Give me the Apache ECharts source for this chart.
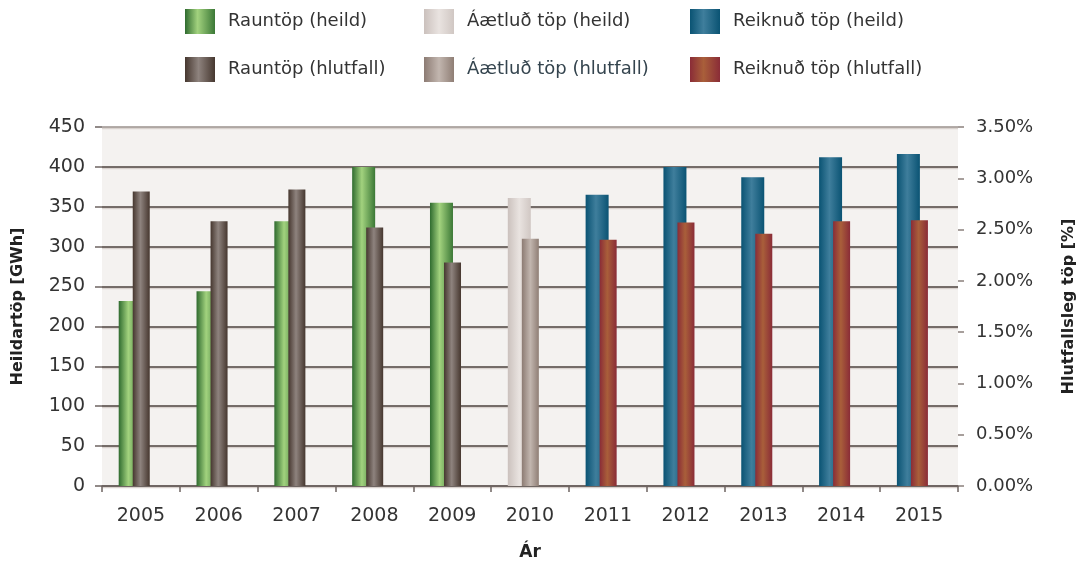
<!DOCTYPE html>
<html>
<head>
<meta charset="utf-8">
<script src="https://cdn.jsdelivr.net/npm/echarts@6/dist/echarts.min.js"></script>
<style>
  html, body { margin: 0; padding: 0; background: #ffffff; }
  #chart { width: 1078px; height: 563px; }
</style>
</head>
<body>
<div id="chart"></div>
<script>
// Years on the category axis
const years = ['2005', '2006', '2007', '2008', '2009', '2010', '2011', '2012', '2013', '2014', '2015'];

// Total losses [GWh] (left axis)
const rauntopHeild  = [232, 244, 332, 400, 355, '-', '-', '-', '-', '-', '-'];
const aaetludHeild  = ['-', '-', '-', '-', '-', 361, '-', '-', '-', '-', '-'];
const reiknudHeild  = ['-', '-', '-', '-', '-', '-', 365, 400, 387, 412, 416];

// Relative losses [%] (right axis)
const rauntopHlutf  = [2.87, 2.58, 2.89, 2.52, 2.18, '-', '-', '-', '-', '-', '-'];
const aaetludHlutf  = ['-', '-', '-', '-', '-', 2.41, '-', '-', '-', '-', '-'];
const reiknudHlutf  = ['-', '-', '-', '-', '-', '-', 2.40, 2.57, 2.46, 2.58, 2.59];

// Axis ranges
const leftMax = 450, leftStep = 50;
const rightMax = 3.5, rightStep = 0.5;

const FONT = 'DejaVu Sans';

// Horizontal "cylinder" shading for each bar colour
function shade(edgeL, mid, edgeR, midPos) {
  return new echarts.graphic.LinearGradient(0, 0, 1, 0, [
    { offset: 0, color: edgeL },
    { offset: midPos, color: mid },
    { offset: 1, color: edgeR }
  ]);
}
const cGreen = shade('#2f6b2f', '#a2d27e', '#3b7836', 0.42);
const cDark  = shade('#46372f', '#8e837e', '#46372f', 0.45);
const cLight = shade('#cbc1bd', '#e9e3e0', '#d0c7c3', 0.5);
const cTaupe = shade('#8c7b73', '#c2b6af', '#8f7e75', 0.5);
const cBlue  = shade('#0a5373', '#3f7e9c', '#0a5373', 0.45);
const cRed   = shade('#8a2c37', '#a95f3a', '#8a2c37', 0.45);

function barSeries(name, data, color, axis, stack, width) {
  return {
    name: name,
    type: 'bar',
    data: data,
    yAxisIndex: axis,
    stack: stack,
    barWidth: width,
    barGap: '-39%',
    itemStyle: { color: color },
    emphasis: { disabled: true },
    animation: false
  };
}

const legendBase = {
  orient: 'vertical',
  top: 9,
  padding: 0,
  itemWidth: 30,
  itemHeight: 25,
  itemGap: 23,
  icon: 'rect',
  selectedMode: false,
  textStyle: { fontFamily: FONT, fontSize: 18, color: '#333333', padding: [0, 0, 0, 8] }
};

const chart = echarts.init(document.getElementById('chart'), null, { renderer: 'canvas' });

chart.setOption({
  animation: false,
  backgroundColor: '#ffffff',
  legend: [
    Object.assign({}, legendBase, { left: 185, data: ['Rauntöp (heild)', 'Rauntöp (hlutfall)'] }),
    Object.assign({}, legendBase, { left: 424, data: ['Áætluð töp (heild)',
      { name: 'Áætluð töp (hlutfall)', textStyle: { color: '#34444e' } }] }),
    Object.assign({}, legendBase, { left: 690, data: ['Reiknuð töp (heild)', 'Reiknuð töp (hlutfall)'] })
  ],
  grid: {
    left: 102, right: 120, top: 127, bottom: 77,
    outerBoundsMode: 'none',
    containLabel: false,
    show: true, backgroundColor: '#f4f2f0', borderWidth: 0
  },
  xAxis: {
    type: 'category',
    data: years,
    name: 'Ár',
    nameLocation: 'middle',
    nameGap: 58,
    nameTextStyle: { fontFamily: FONT, fontSize: 17, fontWeight: 'bold', color: '#222222' },
    axisLine: { lineStyle: { color: '#6d6461', width: 1.5 } },
    axisTick: { show: true, length: 6, lineStyle: { color: '#6d6461', width: 1.5 } },
    axisLabel: { margin: 21, fontFamily: FONT, fontSize: 19, color: '#333333' }
  },
  yAxis: [
    {
      type: 'value',
      min: 0, max: leftMax, interval: leftStep,
      name: 'Heildartöp [GWh]',
      nameLocation: 'middle',
      nameGap: 76,
      nameTextStyle: { fontFamily: FONT, fontSize: 16, fontWeight: 'bold', color: '#222222' },
      axisLine: { show: false },
      axisTick: { show: true, length: 7, lineStyle: { color: '#6d6461', width: 1.5 } },
      axisLabel: { margin: 17, fontFamily: FONT, fontSize: 19, color: '#333333' },
      splitLine: {
        show: true,
        lineStyle: {
          color: ['#4b413c', '#4b413c', '#4b413c', '#4b413c', '#4b413c',
                  '#4b413c', '#4b413c', '#4b413c', '#4b413c', '#9a918d'],
          width: 1.5,
          shadowColor: '#d9d2ce',
          shadowOffsetY: 1.5,
          shadowBlur: 0
        }
      }
    },
    {
      type: 'value',
      min: 0, max: rightMax, interval: rightStep,
      name: 'Hlutfallsleg töp [%]',
      nameLocation: 'middle',
      nameRotate: 90,
      nameGap: 103,
      nameTextStyle: { fontFamily: FONT, fontSize: 16, fontWeight: 'bold', color: '#222222' },
      axisLine: { show: false },
      axisTick: { show: true, length: 6, lineStyle: { color: '#8a807c', width: 1.5 } },
      axisLabel: {
        margin: 18, fontFamily: FONT, fontSize: 18, color: '#333333',
        formatter: function (v) { return v.toFixed(2) + '%'; }
      },
      splitLine: { show: false }
    }
  ],
  series: [
    barSeries('Rauntöp (heild)', rauntopHeild, cGreen, 0, 'heild', 23),
    barSeries('Áætluð töp (heild)', aaetludHeild, cLight, 0, 'heild', 23),
    barSeries('Reiknuð töp (heild)', reiknudHeild, cBlue, 0, 'heild', 23),
    barSeries('Rauntöp (hlutfall)', rauntopHlutf, cDark, 1, 'hlutfall', 17),
    barSeries('Áætluð töp (hlutfall)', aaetludHlutf, cTaupe, 1, 'hlutfall', 17),
    barSeries('Reiknuð töp (hlutfall)', reiknudHlutf, cRed, 1, 'hlutfall', 17),
    // empty trailing column: keeps the bar pair left of each category centre
    Object.assign(barSeries('spacer', [], 'rgba(0,0,0,0)', 0, 'spacer', 20), { silent: true })
  ]
});
</script>
</body>
</html>
